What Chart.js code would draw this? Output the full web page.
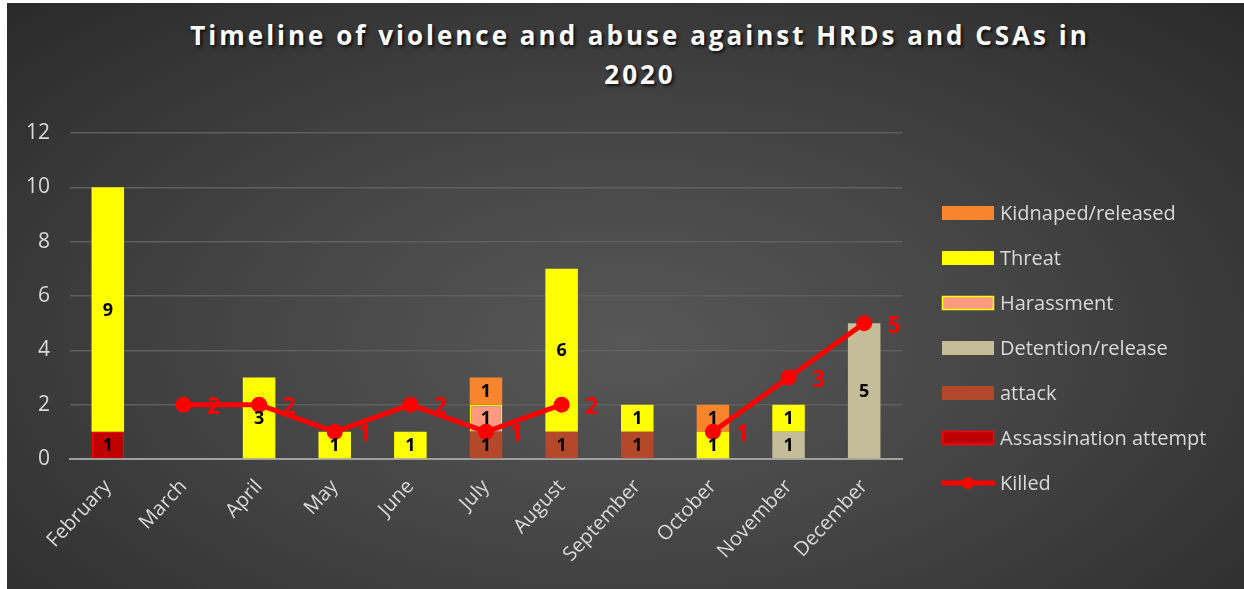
<!DOCTYPE html>
<html>
<head>
<meta charset="utf-8">
<script src="https://cdn.jsdelivr.net/npm/chart.js@4.4.1/dist/chart.umd.min.js"></script>
<style>
  html, body { margin: 0; padding: 0; background: #fff; overflow: hidden; }
  #wrap { position: relative; width: 1244px; height: 589px; }
  #frame {
    position: absolute; left: 7px; top: 3px; width: 1237px; height: 586px;
    background: radial-gradient(ellipse 70% 80% at 50% 58%, #575757 0%, #474747 40%, #2b2b2b 100%);
  }
  #title {
    position: absolute; left: 36px; width: 1208px; top: 16px;
    text-align: center; color: #fff;
    font: bold 26px "Open Sans", sans-serif; letter-spacing: 3px; line-height: 39px;
    text-shadow: 2px 2px 3px rgba(0,0,0,0.75);
  }
  canvas { position: absolute; left: 0; top: 0; }
</style>
</head>
<body>
<div id="wrap">
  <div id="frame"></div>
  <div id="title">Timeline of violence and abuse against HRDs and CSAs in<br>2020</div>
  <canvas id="chart" width="1244" height="589"></canvas>
</div>
<script>
const months = ["February", "March", "April", "May", "June", "July", "August",
  "September", "October", "November", "December"];

// stacked from the bottom up
const assassination = [1, null, null, null, null, null, null, null, null, null, null];
const attack        = [null, null, null, null, null, 1, 1, 1, null, null, null];
const detention     = [null, null, null, null, null, null, null, null, null, 1, 5];
const harassment    = [null, null, null, null, null, 1, null, null, null, null, null];
const threat        = [9, null, 3, 1, 1, null, 6, 1, 1, 1, null];
const kidnaped      = [null, null, null, null, null, 1, null, null, 1, null, null];
const killed        = [null, 2, 2, 1, 2, 1, 2, null, 1, 3, 5];

const legendOrder = ["Kidnaped/released", "Threat", "Harassment", "Detention/release",
  "attack", "Assassination attempt", "Killed"];

const LABEL_FONT = '"Open Sans", sans-serif';

function bar(label, data, fill, border, borderWidth) {
  return {
    type: "bar", label, data, stack: "events",
    backgroundColor: fill, borderColor: border || fill, borderWidth: borderWidth || 0,
    categoryPercentage: 1, barPercentage: 0.43, order: 2,
  };
}

// value labels inside the bars and beside the line points, plus the legend on the right
const labelsPlugin = {
  id: "labels",
  afterDatasetsDraw(chart) {
    const ctx = chart.ctx;
    ctx.save();
    ctx.textAlign = "center";
    ctx.textBaseline = "middle";
    chart.data.datasets.forEach((ds, i) => {
      const meta = chart.getDatasetMeta(i);
      meta.data.forEach((el, j) => {
        const v = ds.data[j];
        if (v == null) return;
        if (ds.type === "bar") {
          ctx.font = "bold 18px " + LABEL_FONT;
          ctx.fillStyle = "#000";
          ctx.fillText(String(v), el.x, (el.y + el.base) / 2 + 1);
        } else {
          ctx.font = "bold 23px " + LABEL_FONT;
          ctx.fillStyle = "#ff0000";
          ctx.fillText(String(v), el.x + 30, el.y + 3);
        }
      });
    });
    ctx.restore();
  },
  afterDraw(chart) {
    const ctx = chart.ctx;
    const x0 = 942, y0 = 213, step = 45;
    ctx.save();
    legendOrder.forEach((name, k) => {
      const ds = chart.data.datasets.find(d => d.label === name);
      const y = y0 + k * step;
      if (ds.type === "line") {
        ctx.strokeStyle = ds.borderColor;
        ctx.lineWidth = 5;
        ctx.lineCap = "round";
        ctx.beginPath();
        ctx.moveTo(x0 + 1, y);
        ctx.lineTo(x0 + 51, y);
        ctx.stroke();
        ctx.fillStyle = ds.borderColor;
        ctx.beginPath();
        ctx.arc(x0 + 26, y, 6, 0, Math.PI * 2);
        ctx.fill();
      } else {
        ctx.fillStyle = ds.backgroundColor;
        ctx.fillRect(x0, y - 7, 52, 14);
        if (ds.borderWidth) {
          ctx.strokeStyle = ds.borderColor;
          ctx.lineWidth = 1.5;
          ctx.strokeRect(x0 + 0.5, y - 6.5, 51, 13);
        }
      }
      ctx.font = "20px " + LABEL_FONT;
      ctx.fillStyle = "#d9d9d9";
      ctx.textAlign = "left";
      ctx.textBaseline = "middle";
      ctx.fillText(name, x0 + 58, y + 1);
    });
    ctx.restore();
  }
};

new Chart(document.getElementById("chart"), {
  data: {
    labels: months,
    datasets: [
      bar("Assassination attempt", assassination, "#c00000", "#ff0000", 1.5),
      bar("attack", attack, "#b4482a"),
      bar("Detention/release", detention, "#c4bd97"),
      bar("Harassment", harassment, "#ff9a80", "#ffff00", 1.5),
      bar("Threat", threat, "#ffff00"),
      bar("Kidnaped/released", kidnaped, "#f8852c"),
      {
        type: "line", label: "Killed", data: killed, stack: "killed",
        borderColor: "#ff0000", backgroundColor: "#ff0000", borderWidth: 5,
        pointRadius: 8, pointBackgroundColor: "#ff0000", pointBorderWidth: 0,
        spanGaps: false, tension: 0, order: 1,
      },
    ],
  },
  options: {
    responsive: false,
    animation: false,
    layout: { padding: { left: 8, right: 342, top: 133, bottom: 0 } },
    plugins: { legend: { display: false }, tooltip: { enabled: false } },
    scales: {
      x: {
        stacked: true,
        grid: { display: false },
        border: { color: "#a0a0a0", width: 2 },
        ticks: { color: "#d9d9d9", font: { family: LABEL_FONT, size: 20 },
                 minRotation: 47, maxRotation: 47, padding: 8 },
        afterFit: s => { s.height = 130; },
      },
      y: {
        stacked: true, min: 0, max: 12,
        border: { display: false },
        grid: { color: "#5f5f5f", lineWidth: 1.5, drawTicks: false },
        ticks: { stepSize: 2, color: "#d9d9d9", font: { family: LABEL_FONT, size: 21 }, padding: 20 },
        afterFit: s => { s.width = 62; },
      },
    },
  },
  plugins: [labelsPlugin],
});
</script>
</body>
</html>
